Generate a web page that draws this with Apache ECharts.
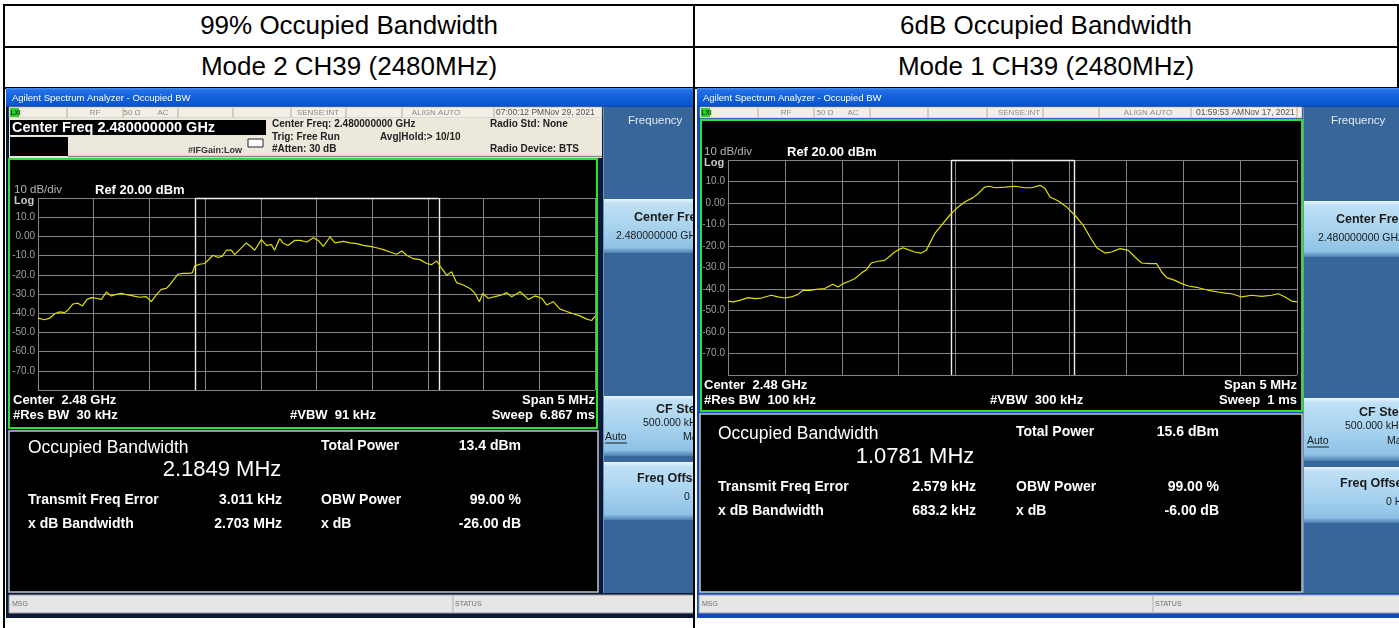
<!DOCTYPE html>
<html><head><meta charset="utf-8">
<script src="https://cdn.jsdelivr.net/npm/echarts/dist/echarts.min.js"></script>
<style>
html,body{margin:0;padding:0;background:#fff;width:1399px;height:628px;overflow:hidden;font-family:"Liberation Sans",Arial,sans-serif;}
.ln{position:absolute;background:#000;}
.hd{position:absolute;font-size:26px;line-height:30px;height:30px;color:#000;text-align:center;white-space:nowrap;}
#c1{position:absolute;left:6px;top:88px;width:687px;height:530px;}
#c2{position:absolute;left:697px;top:88px;width:702px;height:530px;}
</style></head><body>
<div class="ln" style="left:3px;top:4px;width:1396px;height:2px"></div>
<div class="ln" style="left:3px;top:46px;width:1396px;height:2px"></div>
<div class="ln" style="left:3px;top:87px;width:1396px;height:2px"></div>
<div class="ln" style="left:3px;top:4px;width:2px;height:624px"></div>
<div class="ln" style="left:693px;top:4px;width:2px;height:624px"></div>
<div class="ln" style="left:1397px;top:4px;width:2px;height:84px"></div>
<div class="hd" id="h11" style="left:5px;width:688px;top:10px"></div>
<div class="hd" id="h12" style="left:695px;width:702px;top:10px"></div>
<div class="hd" id="h21" style="left:5px;width:688px;top:51px"></div>
<div class="hd" id="h22" style="left:695px;width:702px;top:51px"></div>
<div id="c1"></div>
<div id="c2"></div>
<script>
// ---------------- data ----------------
const headerRow1 = ['99% Occupied Bandwidth', '6dB Occupied Bandwidth'];
const headerRow2 = ['Mode 2 CH39 (2480MHz)', 'Mode 1 CH39 (2480MHz)'];
const yTickValues = [20, 10, 0, -10, -20, -30, -40, -50, -60, -70, -80];
const yTickLabels = ['', '10.0', '0.00', '-10.0', '-20.0', '-30.0', '-40.0', '-50.0', '-60.0', '-70.0', ''];

// trace 1 : offset from 2.48 GHz (MHz) and level (dBm)
const freqOffset1 = [-2.500,-2.440,-2.395,-2.350,-2.306,-2.261,-2.231,-2.186,-2.141,-2.102,
 -2.060,-2.021,-1.976,-1.931,-1.887,-1.842,-1.797,-1.752,-1.692,-1.647,
 -1.587,-1.528,-1.483,-1.438,-1.393,-1.348,-1.318,-1.273,-1.243,-1.198,
 -1.153,-1.115,-1.094,-1.049,-1.004,-0.974,-0.929,-0.884,-0.845,-0.809,
 -0.764,-0.735,-0.690,-0.630,-0.585,-0.555,-0.495,-0.450,-0.405,-0.376,
 -0.331,-0.301,-0.256,-0.196,
 -0.148,-0.088,-0.028,0.016,0.061,0.121,0.166,0.241,0.301,0.361,
 0.420,0.480,0.540,0.600,0.660,0.720,0.765,0.809,0.869,0.929,
 0.989,1.034,1.079,1.124,1.168,1.213,1.258,1.318,1.378,1.423,
 1.462,1.492,1.542,1.602,1.662,1.707,1.752,1.827,1.902,1.961,
 2.021,2.066,2.126,2.186,2.246,2.305,2.365,2.425,2.470,2.500];
const level1 = [-42.6,-43.4,-42.6,-40.3,-39.3,-39.7,-38.3,-35.2,-34.8,-36.2,
 -32.8,-31.9,-32.2,-32.8,-29.0,-31.0,-30.2,-29.7,-30.5,-31.0,
 -31.7,-31.4,-34.0,-30.5,-27.6,-27.1,-25.3,-21.9,-19.7,-19.3,
 -19.3,-19.0,-15.5,-14.5,-14.1,-12.4,-9.8,-11.0,-10.3,-7.2,
 -7.2,-9.5,-6.9,-3.4,-5.5,-7.2,-1.7,-4.7,-4.3,-7.2,
 -1.2,-3.4,-4.7,-2.1,
 -2.1,-2.9,-0.7,-2.1,-5.2,-0.3,-3.4,-2.6,-3.4,-3.8,
 -4.7,-5.2,-5.9,-6.9,-8.1,-9.3,-7.6,-9.8,-11.6,-12.1,
 -14.1,-14.7,-12.8,-16.7,-20.2,-18.4,-24.1,-25.3,-27.1,-29.7,
 -34.0,-29.7,-32.2,-31.4,-30.5,-29.3,-31.4,-28.8,-32.8,-31.0,
 -32.2,-35.7,-34.0,-37.9,-39.1,-40.3,-41.4,-43.1,-43.8,-41.7];

// trace 2
const freqOffset2 = [-2.500,-2.456,-2.397,-2.324,-2.266,-2.207,-2.119,-2.061,-2.002,-1.943,
 -1.885,-1.841,-1.782,-1.724,-1.651,-1.577,-1.533,-1.489,-1.431,-1.387,
 -1.328,-1.284,-1.240,-1.182,-1.123,-1.079,-1.035,-1.000,-0.962,-0.918,
 -0.860,-0.801,-0.757,-0.728,-0.684,-0.625,-0.552,-0.494,-0.421,-0.347,
 -0.303,-0.245,-0.201,-0.157,
 -0.066,0.022,0.110,0.168,0.242,0.286,0.330,0.403,0.476,0.549,
 0.622,0.681,0.740,0.813,0.871,0.945,1.018,1.076,1.135,1.208,
 1.267,1.311,1.355,1.428,1.487,1.545,1.633,1.721,1.809,1.867,
 1.926,2.014,2.102,2.190,2.277,2.336,2.395,2.453,2.500];
const level2 = [-45.6,-46.0,-45.3,-44.0,-44.5,-44.2,-42.9,-43.7,-44.2,-43.7,
 -42.5,-40.6,-40.6,-40.2,-39.8,-37.8,-39.1,-37.5,-36.3,-35.2,
 -32.6,-31.0,-27.9,-27.1,-26.7,-24.8,-22.8,-21.7,-20.8,-21.7,
 -22.8,-23.3,-22.0,-18.9,-14.3,-10.4,-5.7,-2.6,0.5,2.5,
 4.3,7.4,7.8,7.1,
 7.4,7.8,7.1,7.1,8.2,6.7,2.8,0.9,-1.9,-5.7,
 -10.4,-15.8,-20.8,-23.3,-22.8,-21.2,-22.0,-25.1,-27.9,-28.2,
 -28.2,-32.1,-34.7,-36.0,-37.5,-38.6,-39.4,-40.6,-41.4,-41.9,
 -42.2,-43.7,-42.9,-43.4,-42.9,-42.2,-43.7,-45.6,-46.0];

const obwMHz = [2.1849, 1.0781];
const freqErrorKHz = [3.011, 2.579];
const xdbBandwidth = ['2.703 MHz', '683.2 kHz'];
const totalPower = ['13.4 dBm', '15.6 dBm'];
const obwPower = ['99.00 %', '99.00 %'];
const xdbValue = ['-26.00 dB', '-6.00 dB'];
const resBW = ['30 kHz', '100 kHz'];
const videoBW = ['91 kHz', '300 kHz'];
const sweepTime = ['6.867 ms', '1 ms'];
const timestamps = ['07:00:12 PMNov 29, 2021', '01:59:53 AMNov 17, 2021'];

// ---------------- header ----------------
document.getElementById('h11').textContent = headerRow1[0];
document.getElementById('h12').textContent = headerRow1[1];
document.getElementById('h21').textContent = headerRow2[0];
document.getElementById('h22').textContent = headerRow2[1];

// ---------------- layout ----------------
const FONT = '"Liberation Sans", Arial, sans-serif';
const LAYOUTS = [
 { dom:'c1', ox:6, oy:88, w:687, h:530, frame:'#0b1838',
   titleX:12, st:{x0:9,x1:602,seps:[67,123,178,233,291,346,402,494],rf:95,ohm:132,ac:163,sense:318,align:436,date:496},
   info:true,
   green:{x0:9,x1:597,y0:159,y1:428},
   grid:{x:38,y:198,w:557,h:192},
   dbdiv:[14,190], log:[14,201], ref:[95,190],
   cen:[13,400], res:[13,415], vbw:[290,415], right:595,
   meas:{x0:9,x1:598,y0:431,y1:592, lx:28, y0t:448, big:[222,470], r1:500, r2:524, valR:282, c2:321, tp:446, val2R:521},
   panel:{x0:603,x1:693, freq:[628,121], b1:[199,253], cf:[634,218], cfv:[616,236],
          b2:[396,456], st:[656,410], stv:[643,423], auto:[605,437], man:[683,437],
          b3:[462,520], fo:[637,479], fov:[684,497]},
   msg:{x0:9, x1:693, sx:453}
 },
 { dom:'c2', ox:697, oy:88, w:702, h:530, frame:'#1448c0',
   titleX:703, st:{x0:700,x1:1302,seps:[758,814,870,928,987,1043,1099,1191,1297],rf:786,ohm:825,ac:853,sense:1019,align:1148,date:1196},
   info:false,
   green:{x0:701,x1:1302,y0:120,y1:411},
   grid:{x:728,y:160,w:569,h:215},
   dbdiv:[704,152], log:[704,163], ref:[787,152],
   cen:[704,385], res:[704,400], vbw:[990,400], right:1297,
   meas:{x0:700,x1:1302,y0:414,y1:592, lx:718, y0t:434, big:[915,457], r1:487, r2:511, valR:976, c2:1016, tp:432, val2R:1219},
   panel:{x0:1303,x1:1399, freq:[1331,121], b1:[201,257], cf:[1336,220], cfv:[1318,238],
          b2:[398,461], st:[1359,413], stv:[1345,426], auto:[1307,441], man:[1387,441],
          b3:[467,523], fo:[1340,484], fov:[1386,502]},
   msg:{x0:699, x1:1399, sx:1153}
 }
];

function vgrad(stops){
  return {type:'linear',x:0,y:0,x2:0,y2:1,colorStops:stops.map(s=>({offset:s[0],color:s[1]}))};
}

function buildScreen(i, freqs, levels){
  const L = LAYOUTS[i];
  const ox = L.ox, oy = L.oy;
  const G = [];
  const R = (x0,y0,x1,y1,fill,stroke,lw,z) => G.push({type:'rect', z:(z==null?-10:z), silent:true,
      shape:{x:x0-ox,y:y0-oy,width:x1-x0,height:y1-y0}, style:{fill:fill, stroke:stroke||null, lineWidth:lw||0}});
  const Ln = (x1,y1,x2,y2,c,w,z) => G.push({type:'line', z:(z==null?-9:z), silent:true,
      shape:{x1:x1-ox,y1:y1-oy,x2:x2-ox,y2:y2-oy}, style:{stroke:c,lineWidth:w||1}});
  const T = (x,y,s,size,weight,fill,align) => G.push({type:'text', z:10, silent:true, x:x-ox, y:y-oy,
      style:{text:s, font:(weight||'normal')+' '+size+'px '+FONT, fill:fill||'#fff', textAlign:align||'left', textVerticalAlign:'middle'}});

  // window frame + title bar
  R(ox, oy, ox+L.w, oy+L.h, L.frame, null, 0, -20);
  R(ox, 88, ox+L.w, 107, vgrad([[0,'#4a92f2'],[0.12,'#2470e6'],[0.5,'#1160dc'],[0.88,'#0c55cc'],[1,'#0a45a8']]));
  T(L.titleX, 98.5, 'Agilent Spectrum Analyzer - Occupied BW', 9.5, 'normal', '#ffffff');

  // status row
  const st = L.st;
  R(st.x0, 107, st.x1, 118, '#f3efe6', '#a9a293', 0.6);
  st.seps.forEach(s => Ln(s, 107.5, s, 117.5, '#b5ad9e', 1));
  R(st.x0+1, 108, st.x0+10, 117, '#2bd12b');
  T(st.x0+1.5, 112.8, 'LXI', 6.5, 'bold', '#0d3d0d');
  T(st.rf, 112.8, 'RF', 8, 'normal', '#8c8c8c', 'center');
  T(st.ohm, 112.8, '50 \u03A9', 8, 'normal', '#8c8c8c', 'center');
  T(st.ac, 112.8, 'AC', 8, 'normal', '#8c8c8c', 'center');
  T(st.sense, 112.8, 'SENSE:INT', 8, 'normal', '#8c8c8c', 'center');
  T(st.align, 112.8, 'ALIGN AUTO', 8, 'normal', '#8c8c8c', 'center');
  T(st.date, 112.8, timestamps[i], 8.5, 'normal', '#555555');

  // info area (first screen only)
  if (L.info){
    R(9, 118, 602, 158, '#ede8dc');
    R(10, 120, 266, 135, '#000000');
    T(12, 127.8, 'Center Freq 2.480000000 GHz', 14.5, 'bold', '#ffffff');
    R(10, 137, 68, 156, '#000000');
    Ln(68, 156.5, 602, 156.5, '#8a8a8a', 1.5);
    R(248, 139, 263, 147, '#ffffff', '#222222', 1, -8);
    T(188, 150.5, '#IFGain:Low', 9, 'bold', '#333333');
    T(272, 124.5, 'Center Freq: 2.480000000 GHz', 10, 'bold', '#222222');
    T(272, 137, 'Trig: Free Run', 10, 'bold', '#222222');
    T(272, 149.5, '#Atten: 30 dB', 10, 'bold', '#222222');
    T(380, 137, 'Avg|Hold:> 10/10', 10, 'bold', '#222222');
    T(490, 124.5, 'Radio Std: None', 10, 'bold', '#222222');
    T(490, 149.5, 'Radio Device: BTS', 10, 'bold', '#222222');
  }

  // plot area (green frame)
  const g = L.green;
  R(g.x0, g.y0, g.x1, g.y1, '#000000', '#2fe22f', 2);
  T(L.dbdiv[0], L.dbdiv[1], '10 dB/div', 11.5, 'normal', '#b4b4b4');
  T(L.log[0], L.log[1], 'Log', 11, 'bold', '#c8c8c8');
  T(L.ref[0], L.ref[1], 'Ref 20.00 dBm', 13, 'bold', '#ffffff');
  T(L.cen[0], L.cen[1], 'Center  2.48 GHz', 13, 'bold', '#ffffff');
  T(L.res[0], L.res[1], '#Res BW  ' + resBW[i], 13, 'bold', '#ffffff');
  T(L.vbw[0], L.vbw[1], '#VBW  ' + videoBW[i], 13, 'bold', '#ffffff');
  T(L.right, L.cen[1], 'Span 5 MHz', 13, 'bold', '#ffffff', 'right');
  T(L.right, L.res[1], 'Sweep  ' + sweepTime[i], 13, 'bold', '#ffffff', 'right');

  // measurement area
  const m = L.meas;
  R(m.x0, m.y0, m.x1, m.y1, '#000000', '#c4c4c4', 1.5);
  T(m.lx, m.y0t, 'Occupied Bandwidth', 17.5, 'normal', '#ffffff');
  T(m.big[0], m.big[1], obwMHz[i].toFixed(4) + ' MHz', 22, 'normal', '#ffffff', 'center');
  T(m.lx, m.r1, 'Transmit Freq Error', 14, 'bold', '#ffffff');
  T(m.valR, m.r1, freqErrorKHz[i].toFixed(3) + ' kHz', 14, 'bold', '#ffffff', 'right');
  T(m.lx, m.r2, 'x dB Bandwidth', 14, 'bold', '#ffffff');
  T(m.valR, m.r2, xdbBandwidth[i], 14, 'bold', '#ffffff', 'right');
  T(m.c2, m.tp, 'Total Power', 14, 'bold', '#ffffff');
  T(m.val2R, m.tp, totalPower[i], 14, 'bold', '#ffffff', 'right');
  T(m.c2, m.r1, 'OBW Power', 14, 'bold', '#ffffff');
  T(m.val2R, m.r1, obwPower[i], 14, 'bold', '#ffffff', 'right');
  T(m.c2, m.r2, 'x dB', 14, 'bold', '#ffffff');
  T(m.val2R, m.r2, xdbValue[i], 14, 'bold', '#ffffff', 'right');

  // soft-key panel
  const p = L.panel;
  const btn = vgrad([[0,'#eaf5fc'],[0.08,'#bfe0f5'],[0.5,'#a8d3ef'],[0.9,'#8fc2e5'],[1,'#4c7fb0']]);
  R(p.x0, 107, p.x1 + 10, 593, '#36669a');
  Ln(p.x0 + 0.5, 107, p.x0 + 0.5, 593, '#6f93b8', 1);
  T(p.freq[0], p.freq[1], 'Frequency', 11.5, 'normal', '#e2eaf2');
  R(p.x0 + 1, p.b1[0], p.x1 + 10, p.b1[1], btn);
  T(p.cf[0], p.cf[1], 'Center Freq', 12.5, 'bold', '#1a1a1a');
  T(p.cfv[0], p.cfv[1], '2.480000000 GHz', 10.5, 'normal', '#1a1a1a');
  R(p.x0 + 1, p.b2[0], p.x1 + 10, p.b2[1], btn);
  T(p.st[0], p.st[1], 'CF Step', 12.5, 'bold', '#1a1a1a');
  T(p.stv[0], p.stv[1], '500.000 kHz', 10.5, 'normal', '#1a1a1a');
  T(p.auto[0], p.auto[1], 'Auto', 10.5, 'normal', '#1a1a1a');
  Ln(p.auto[0], p.auto[1] + 6, p.auto[0] + 22, p.auto[1] + 6, '#1a1a1a', 1, 5);
  T(p.man[0], p.man[1], 'Man', 10.5, 'normal', '#1a1a1a');
  R(p.x0 + 1, p.b3[0], p.x1 + 10, p.b3[1], btn);
  T(p.fo[0], p.fo[1], 'Freq Offset', 12.5, 'bold', '#1a1a1a');
  T(p.fov[0], p.fov[1], '0 Hz', 10.5, 'normal', '#1a1a1a');

  // message bar
  const mb = L.msg;
  R(mb.x0, 595, mb.x1 + 5, 613, '#e6e6e6', '#9c9c9c', 1);
  Ln(mb.sx, 596, mb.sx, 612, '#b0b0b0', 1);
  T(mb.x0 + 3, 604, 'MSG', 7, 'normal', '#707070');
  T(mb.sx + 2, 604, 'STATUS', 7, 'normal', '#707070');

  // occupied-bandwidth markers
  const fc = freqErrorKHz[i] / 1000;
  const lo = fc - obwMHz[i] / 2, hi = fc + obwMHz[i] / 2;

  const gr = L.grid;
  const option = {
    animation: false,
    backgroundColor: 'transparent',
    graphic: { elements: G },
    grid: { left: gr.x - ox, top: gr.y - oy, width: gr.w, height: gr.h, containLabel: false },
    xAxis: {
      type: 'value', min: -2.5, max: 2.5, interval: 0.5,
      axisLine: { show: true, lineStyle: { color: '#848484', width: 1 } },
      axisTick: { show: false }, axisLabel: { show: false },
      splitLine: { show: true, lineStyle: { color: '#848484', width: 1 } }
    },
    yAxis: {
      type: 'value', min: -80, max: 20, interval: 10,
      axisLine: { show: true, lineStyle: { color: '#848484', width: 1 } },
      axisTick: { show: false },
      axisLabel: { show: true, color: '#a0a0a0', fontSize: 10, fontFamily: FONT, margin: 3,
        formatter: v => { const k = yTickValues.indexOf(Math.round(v)); return k >= 0 ? yTickLabels[k] : ''; } },
      splitLine: { show: true, lineStyle: { color: '#848484', width: 1 } }
    },
    series: [{
      type: 'line', showSymbol: false, symbol: 'none', z: 5,
      data: freqs.map((f, k) => [f, levels[k]]),
      lineStyle: { color: '#e0e000', width: 1.2 },
      markLine: {
        silent: true, symbol: ['none', 'none'], label: { show: false }, animation: false,
        lineStyle: { color: '#eeeeee', width: 1.4, type: 'solid' },
        data: [ { xAxis: lo }, { xAxis: hi }, [ { coord: [lo, 20] }, { coord: [hi, 20] } ] ]
      }
    }]
  };
  const chart = echarts.init(document.getElementById(L.dom), null, { renderer: 'canvas' });
  chart.setOption(option);
}

buildScreen(0, freqOffset1, level1);
buildScreen(1, freqOffset2, level2);
</script>
</body></html>
